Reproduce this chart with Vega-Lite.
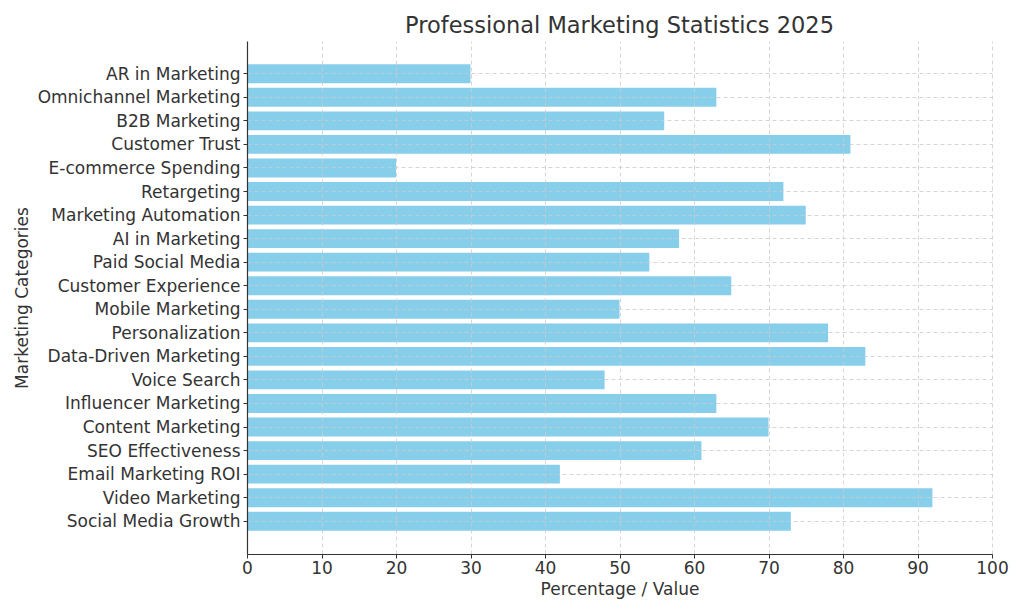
{
  "$schema": "https://vega.github.io/schema/vega-lite/v6.json",
  "width": 745,
  "height": 513,
  "autosize": {"type": "none"},
  "padding": {"left": 247, "top": 41, "right": 32, "bottom": 60},
  "background": "white",
  "title": {
    "text": "Professional Marketing Statistics 2025",
    "font": "DejaVu Sans",
    "fontSize": 22.5,
    "fontWeight": "normal",
    "color": "#333333",
    "anchor": "middle",
    "offset": 4
  },
  "config": {
    "view": {"stroke": null},
    "font": "DejaVu Sans"
  },
  "data": {
    "values": [
      {"category": "AR in Marketing", "value": 30},
      {"category": "Omnichannel Marketing", "value": 63},
      {"category": "B2B Marketing", "value": 56},
      {"category": "Customer Trust", "value": 81},
      {"category": "E-commerce Spending", "value": 20},
      {"category": "Retargeting", "value": 72},
      {"category": "Marketing Automation", "value": 75},
      {"category": "AI in Marketing", "value": 58},
      {"category": "Paid Social Media", "value": 54},
      {"category": "Customer Experience", "value": 65},
      {"category": "Mobile Marketing", "value": 50},
      {"category": "Personalization", "value": 78},
      {"category": "Data-Driven Marketing", "value": 83},
      {"category": "Voice Search", "value": 48},
      {"category": "Influencer Marketing", "value": 63},
      {"category": "Content Marketing", "value": 70},
      {"category": "SEO Effectiveness", "value": 61},
      {"category": "Email Marketing ROI", "value": 42},
      {"category": "Video Marketing", "value": 92},
      {"category": "Social Media Growth", "value": 73}
    ]
  },
  "mark": {"type": "bar", "color": "#87CEEB"},
  "encoding": {
    "y": {
      "field": "category",
      "type": "nominal",
      "sort": null,
      "scale": {"paddingInner": 0.2, "paddingOuter": 0.99},
      "axis": {
        "title": "Marketing Categories",
        "titleFont": "DejaVu Sans",
        "titleFontSize": 17,
        "titleFontWeight": "normal",
        "titleColor": "#333333",
        "titlePadding": 16,
        "labelFont": "DejaVu Sans",
        "labelFontSize": 17,
        "labelColor": "#333333",
        "labelPadding": 3,
        "labelOffset": 1,
        "labelLimit": 400,
        "tickSize": 4,
        "tickColor": "#333333",
        "domainColor": "#333333",
        "domainWidth": 1.2,
        "bandPosition": 0.5,
        "grid": true,
        "gridDash": [4, 3],
        "gridColor": "#cccccc",
        "gridWidth": 0.8,
        "zindex": 1
      }
    },
    "x": {
      "field": "value",
      "type": "quantitative",
      "scale": {"domain": [0, 100], "nice": false},
      "axis": {
        "title": "Percentage / Value",
        "values": [0, 10, 20, 30, 40, 50, 60, 70, 80, 90, 100],
        "titleFont": "DejaVu Sans",
        "titleFontSize": 17,
        "titleFontWeight": "normal",
        "titleColor": "#333333",
        "titlePadding": 5,
        "labelFont": "DejaVu Sans",
        "labelFontSize": 17,
        "labelColor": "#333333",
        "labelPadding": 2,
        "labelFlush": false,
        "tickSize": 4,
        "tickColor": "#333333",
        "domainColor": "#333333",
        "domainWidth": 1.2,
        "grid": true,
        "gridDash": [4, 3],
        "gridColor": "#cccccc",
        "gridWidth": 0.8,
        "zindex": 1
      }
    }
  }
}
